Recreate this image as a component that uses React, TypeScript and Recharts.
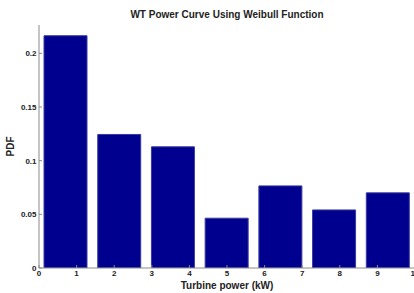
import React from 'react';
import { BarChart, Bar, XAxis, YAxis } from 'recharts';

const binCenters = [0.714, 2.143, 3.571, 5.0, 6.429, 7.857, 9.286];
const pdfValues = [0.2164, 0.1244, 0.1129, 0.0464, 0.0765, 0.0541, 0.07];
const xTicks = [0, 1, 2, 3, 4, 5, 6, 7, 8, 9, 10];
const yTicks = [0, 0.05, 0.1, 0.15, 0.2];
const yTickLabels = ['0', '0.05', '0.1', '0.15', '0.2'];
const title = 'WT Power Curve Using Weibull Function';

const data = binCenters.map((x, i) => ({ x, pdf: pdfValues[i] }));

const FONT = '"Liberation Sans", Arial, Helvetica, sans-serif';
const AXIS = '#8a8a8a';
const TEXT = '#222';

export default function App() {
  return (
    <div style={{ position: 'fixed', left: 0, top: 0, width: 414, height: 293, overflow: 'hidden', background: '#fff' }}>
      <div
        style={{
          position: 'absolute',
          left: 0,
          top: 9,
          width: 454,
          textAlign: 'center',
          fontFamily: FONT,
          fontSize: 10,
          fontWeight: 'bold',
          lineHeight: '12px',
          color: TEXT,
          whiteSpace: 'nowrap',
        }}
      >
        {title}
      </div>
      <BarChart width={440} height={293} data={data} margin={{ top: 25, right: 0, bottom: 0, left: 0 }}>
        <XAxis
          dataKey="x"
          type="number"
          domain={[0, 10]}
          ticks={xTicks}
          allowDataOverflow
          height={25}
          stroke={AXIS}
          tickSize={-3}
          tickMargin={5}
          tick={{ fontSize: 8, fontWeight: 'bold', fill: TEXT, fontFamily: FONT }}
          label={{ value: 'Turbine power (kW)', position: 'insideBottom', offset: 4, fontSize: 10, fontWeight: 'bold', fill: TEXT, fontFamily: FONT }}
        />
        <XAxis
          xAxisId="top"
          dataKey="x"
          type="number"
          orientation="top"
          domain={[0, 10]}
          ticks={xTicks}
          height={0}
          stroke={AXIS}
          tickSize={-3}
          tick={false}
        />
        <YAxis
          type="number"
          domain={[0, 0.2264]}
          ticks={yTicks}
          allowDataOverflow
          width={39}
          stroke={AXIS}
          tickSize={-3}
          tickMargin={5.5}
          tickFormatter={(v: number) => yTickLabels[yTicks.indexOf(v)] ?? String(v)}
          tick={{ fontSize: 8, fontWeight: 'bold', fill: TEXT, fontFamily: FONT }}
          label={{ value: 'PDF', angle: -90, position: 'center', dx: -9, fontSize: 10, fontWeight: 'bold', fill: TEXT, fontFamily: FONT }}
        />
        <YAxis
          yAxisId="right"
          orientation="right"
          type="number"
          domain={[0, 0.2264]}
          ticks={yTicks}
          width={25}
          stroke={AXIS}
          tickSize={-3}
          tick={false}
        />
        <Bar dataKey="pdf" fill="#00008e" stroke="#3a3aa0" strokeWidth={1} barSize={43} isAnimationActive={false} />
      </BarChart>
    </div>
  );
}
